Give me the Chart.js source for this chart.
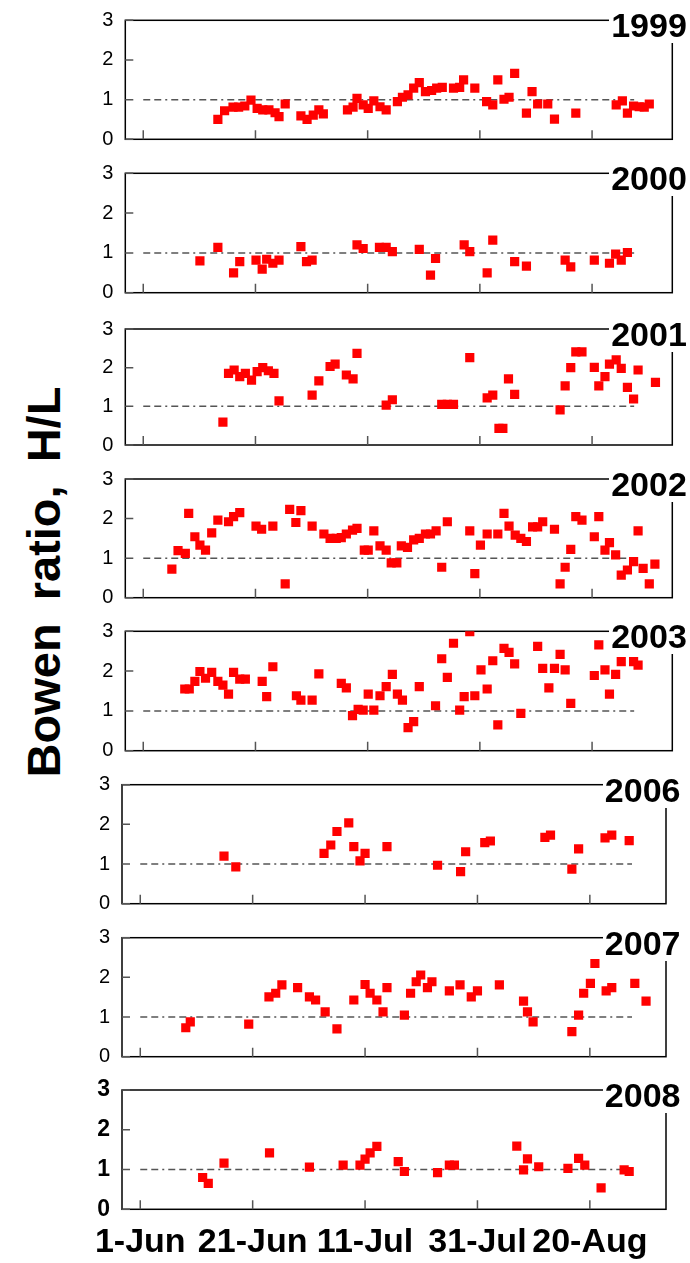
<!DOCTYPE html>
<html>
<head>
<meta charset="utf-8">
<script src="https://cdn.jsdelivr.net/npm/chart.js@4.4.1/dist/chart.umd.min.js"></script>
<style>
  html, body { margin: 0; padding: 0; background: #fff; }
  #wrap { position: relative; width: 690px; height: 1263px; overflow: hidden;
          font-family: "Liberation Sans", Arial, sans-serif; }
  #wrap canvas { position: absolute; left: 0; }
  .year { position: absolute; background: #fff; font-weight: bold; font-size: 34px;
          line-height: 36px; height: 36px; text-align: right; color: #000; }
  #ytitle { position: absolute; left: 43px; top: 582px; white-space: nowrap;
            transform: translate(-50%, -50%) rotate(-90deg);
            font-weight: bold; font-size: 47px; word-spacing: 10px; color: #000; }
</style>
</head>
<body>
<div id="wrap"><div id="ytitle">Bowen ratio, H/L</div></div>
<script>
// --- data: x = days since 1 June, y = Bowen ratio H/L ---
const years = ['1999', '2000', '2001', '2002', '2003', '2006', '2007', '2008'];
const tickDays = [0, 20, 40, 60, 80];
const tickLabels = ['1-Jun', '21-Jun', '11-Jul', '31-Jul', '20-Aug'];
const yTicks = [0, 1, 2, 3];
const refLine = [0, 87.5];   // H/L = 1 reference, from day .. to day

const days1999 = [13.3, 14.5, 16.0, 17.0, 18.1, 19.2, 20.3, 21.3, 22.4, 23.5, 24.2, 25.3, 28.1, 29.2, 30.3,
  31.3, 32.1, 36.4, 37.4, 38.1, 39.2, 40.1, 41.1, 42.2, 43.3, 45.3, 46.2, 47.2, 48.2, 49.2, 50.3, 51.4,
  52.3, 53.3, 55.3, 56.4, 57.1, 59.1, 61.2, 62.3, 63.2, 64.3, 65.2, 66.2, 68.3, 69.3, 70.3, 72.1, 73.3,
  77.1, 84.3, 85.4, 86.3, 87.4, 88.4, 89.3, 90.2];
const ratio1999 = [0.50, 0.72, 0.81, 0.81, 0.84, 0.99, 0.78, 0.74, 0.74, 0.67, 0.57, 0.89, 0.59, 0.50, 0.61,
  0.74, 0.64, 0.74, 0.81, 1.03, 0.87, 0.78, 0.97, 0.82, 0.74, 0.95, 1.06, 1.12, 1.29, 1.43, 1.20, 1.23,
  1.29, 1.31, 1.29, 1.31, 1.50, 1.29, 0.95, 0.87, 1.50, 1.01, 1.06, 1.66, 0.66, 1.20, 0.89, 0.89, 0.51,
  0.66, 0.87, 0.97, 0.66, 0.84, 0.82, 0.81, 0.89];

const days2000 = [10.1, 13.3, 16.1, 17.2, 20.1, 21.2, 22.0, 23.1, 24.2, 28.1, 29.1, 30.1, 38.1, 39.2, 42.1,
  43.3, 44.4, 49.2, 51.2, 52.1, 57.2, 58.2, 61.3, 62.3, 66.2, 68.3, 75.2, 76.2, 80.4, 83.1, 84.2, 85.2, 86.3];
const ratio2000 = [0.80, 1.14, 0.50, 0.78, 0.82, 0.59, 0.84, 0.74, 0.82, 1.16, 0.78, 0.82, 1.20, 1.11, 1.14,
  1.14, 1.03, 1.09, 0.44, 0.86, 1.20, 1.03, 0.50, 1.32, 0.78, 0.67, 0.82, 0.65, 0.82, 0.74, 0.97, 0.82, 1.01];

const days2001 = [14.2, 15.2, 16.2, 17.2, 18.2, 19.3, 20.3, 21.3, 22.3, 23.3, 24.2, 30.1, 31.3, 33.3, 34.2,
  36.2, 37.4, 38.1, 43.3, 44.4, 53.2, 54.2, 55.3, 58.2, 61.3, 62.3, 63.4, 64.1, 65.1, 66.2, 74.3, 75.2,
  76.2, 77.1, 78.2, 80.4, 81.2, 82.3, 83.1, 84.3, 85.2, 86.3, 87.4, 88.2, 91.3];
const ratio2001 = [0.59, 1.85, 1.94, 1.77, 1.85, 1.68, 1.90, 2.00, 1.92, 1.85, 1.14, 1.29, 1.66, 2.03, 2.09,
  1.81, 1.71, 2.37, 1.03, 1.17, 1.05, 1.05, 1.05, 2.26, 1.22, 1.29, 0.43, 0.43, 1.71, 1.31, 0.91, 1.53,
  2.00, 2.41, 2.41, 2.01, 1.53, 1.77, 2.09, 2.20, 1.98, 1.49, 1.19, 1.94, 1.62];

const days2002 = [5.1, 6.2, 7.5, 8.1, 9.2, 10.1, 11.1, 12.2, 13.3, 15.2, 16.1, 17.2, 20.1, 21.1, 23.1,
  25.3, 26.1, 27.2, 28.1, 30.1, 32.2, 33.3, 34.4, 35.3, 36.2, 37.3, 38.1, 39.4, 40.1, 41.1, 42.2, 43.3,
  44.2, 45.2, 46.0, 47.1, 48.2, 49.2, 50.3, 51.2, 52.2, 53.2, 54.2, 58.2, 59.1, 60.1, 61.3, 63.2, 64.3,
  65.2, 66.3, 67.3, 68.3, 69.4, 70.3, 71.2, 73.3, 74.3, 75.2, 76.2, 77.1, 78.2, 80.4, 81.2, 82.3, 83.1,
  84.2, 85.2, 86.3, 87.4, 88.2, 89.1, 90.2, 91.2];
const ratio2002 = [0.72, 1.19, 1.12, 2.13, 1.54, 1.33, 1.20, 1.64, 1.96, 1.92, 2.05, 2.15, 1.81, 1.73, 1.81,
  0.35, 2.23, 1.90, 2.20, 1.81, 1.61, 1.50, 1.50, 1.52, 1.61, 1.71, 1.75, 1.20, 1.20, 1.69, 1.31, 1.20,
  0.88, 0.88, 1.31, 1.27, 1.46, 1.50, 1.61, 1.61, 1.69, 0.77, 1.92, 1.69, 0.61, 1.33, 1.61, 1.61, 2.13,
  1.81, 1.58, 1.50, 1.42, 1.79, 1.79, 1.92, 1.73, 0.35, 0.77, 1.22, 2.05, 1.96, 1.54, 2.05, 1.20, 1.39,
  1.08, 0.57, 0.70, 0.91, 1.69, 0.74, 0.35, 0.85];

const days2003 = [7.4, 8.2, 9.2, 10.1, 11.1, 12.2, 13.3, 14.2, 15.2, 16.1, 17.2, 18.2, 21.2, 22.0, 23.1,
  27.3, 28.1, 30.1, 31.3, 35.3, 36.2, 37.3, 38.3, 39.2, 40.1, 41.1, 42.2, 43.3, 44.4, 45.3, 46.2, 47.2,
  48.2, 49.2, 52.1, 53.2, 54.2, 55.3, 56.4, 57.2, 58.2, 59.1, 60.2, 61.3, 62.3, 63.2, 64.3, 65.2, 66.2,
  67.3, 70.3, 71.2, 72.3, 73.3, 74.3, 75.2, 76.2, 80.4, 81.2, 82.3, 83.1, 84.2, 85.2, 87.4, 88.2];
const ratio2003 = [1.55, 1.55, 1.74, 1.99, 1.82, 1.97, 1.74, 1.65, 1.42, 1.97, 1.80, 1.80, 1.74, 1.36, 2.11,
  1.38, 1.27, 1.27, 1.93, 1.69, 1.58, 0.88, 1.04, 1.02, 1.42, 1.02, 1.38, 1.61, 1.92, 1.42, 1.27, 0.58,
  0.73, 1.61, 1.13, 2.31, 1.84, 2.70, 1.02, 1.36, 2.99, 1.38, 2.03, 1.55, 2.26, 0.65, 2.57, 2.47, 2.18,
  0.94, 2.62, 2.07, 1.58, 2.07, 2.42, 2.03, 1.19, 1.89, 2.66, 2.03, 1.42, 1.92, 2.24, 2.24, 2.15];

const days2006 = [14.9, 17.0, 32.7, 33.9, 35.0, 37.1, 38.0, 39.1, 40.0, 43.9, 52.9, 57.0, 57.9, 61.3, 62.3,
  72.0, 73.0, 76.8, 78.0, 82.7, 83.9, 87.0];
const ratio2006 = [1.20, 0.93, 1.27, 1.48, 1.82, 2.04, 1.44, 1.08, 1.27, 1.44, 0.97, 0.81, 1.31, 1.54, 1.58,
  1.67, 1.73, 0.87, 1.38, 1.66, 1.73, 1.59];

const days2007 = [8.1, 8.9, 19.3, 22.9, 24.1, 25.2, 28.0, 30.1, 31.2, 32.9, 35.0, 38.0, 40.0, 40.9, 42.1,
  43.2, 43.9, 47.0, 48.1, 49.1, 49.9, 51.1, 51.9, 55.0, 56.9, 58.9, 60.0, 63.9, 68.2, 68.9, 69.9, 76.8,
  78.0, 78.9, 80.1, 80.9, 82.9, 83.9, 88.0, 90.0];
const ratio2007 = [0.73, 0.88, 0.82, 1.51, 1.60, 1.81, 1.74, 1.51, 1.43, 1.13, 0.70, 1.43, 1.82, 1.60, 1.43,
  1.13, 1.74, 1.05, 1.60, 1.89, 2.06, 1.74, 1.89, 1.66, 1.81, 1.51, 1.66, 1.81, 1.40, 1.13, 0.88, 0.63,
  1.05, 1.60, 1.85, 2.35, 1.66, 1.74, 1.85, 1.40];

const days2008 = [11.1, 12.1, 14.9, 23.0, 30.1, 36.1, 39.1, 40.0, 40.9, 42.1, 45.9, 47.0, 52.9, 55.0, 55.9,
  67.0, 68.2, 68.9, 70.9, 76.1, 78.0, 79.1, 82.0, 86.1, 87.0];
const ratio2008 = [0.80, 0.65, 1.16, 1.42, 1.06, 1.11, 1.11, 1.26, 1.42, 1.58, 1.20, 0.95, 0.92, 1.11, 1.11,
  1.59, 0.99, 1.27, 1.07, 1.03, 1.28, 1.11, 0.54, 0.99, 0.95];

const allDays = [days1999, days2000, days2001, days2002, days2003, days2006, days2007, days2008];
const allRatios = [ratio1999, ratio2000, ratio2001, ratio2002, ratio2003, ratio2006, ratio2007, ratio2008];

// --- layout: plot area of every panel, in page pixels ---
const panels = [
  { top: 20.3,   bottom: 139.3,  left: 125.3, right: 672.3, xMin: -3.2, xMax: 94.3 },
  { top: 173.3,  bottom: 292.7,  left: 125.3, right: 672.3, xMin: -3.2, xMax: 94.3 },
  { top: 329,    bottom: 445,    left: 125.3, right: 672.3, xMin: -3.2, xMax: 94.3 },
  { top: 479,    bottom: 597.7,  left: 125.3, right: 672.3, xMin: -3.2, xMax: 94.3 },
  { top: 631.3,  bottom: 750.7,  left: 125.3, right: 672.3, xMin: -3.2, xMax: 94.3 },
  { top: 784.7,  bottom: 903.7,  left: 122,   right: 666,   xMin: -3.25, xMax: 93.55 },
  { top: 937.7,  bottom: 1056.7, left: 122,   right: 666,   xMin: -3.25, xMax: 93.55 },
  { top: 1090,   bottom: 1209.3, left: 122,   right: 666,   xMin: -3.25, xMax: 93.55 }
];
const PAGE_W = 690, PAGE_H = 1263;
const Y_AXIS_W = 60, X_AXIS_H = 50;

// box + inside tick marks, drawn under the markers
const framePlugin = {
  id: 'frame',
  beforeDatasetsDraw(chart) {
    const { ctx, chartArea: a, scales: { x, y } } = chart;
    ctx.save();
    ctx.strokeStyle = '#000';
    ctx.lineWidth = 1.5;
    ctx.strokeRect(a.left, a.top, a.right - a.left, a.bottom - a.top);
    ctx.strokeStyle = '#555';
    ctx.beginPath();
    yTicks.forEach(v => {
      const py = y.getPixelForValue(v);
      ctx.moveTo(a.left, py);
      ctx.lineTo(a.left + 8, py);
    });
    tickDays.forEach(d => {
      const px = x.getPixelForValue(d);
      ctx.moveTo(px, a.bottom);
      ctx.lineTo(px, a.bottom - 9);
    });
    ctx.stroke();
    ctx.restore();
  }
};

const wrap = document.getElementById('wrap');

panels.forEach((b, i) => {
  const isLast = i === panels.length - 1;
  const canvasTop = Math.floor(b.top) - 15;
  const canvasH = isLast ? PAGE_H - canvasTop : Math.ceil(b.bottom) + 12 - canvasTop;
  const xH = isLast ? X_AXIS_H : 0;

  const canvas = document.createElement('canvas');
  canvas.width = PAGE_W;
  canvas.height = canvasH;
  canvas.style.top = canvasTop + 'px';
  wrap.appendChild(canvas);

  const points = allDays[i].map((d, k) => ({ x: d, y: allRatios[i][k] }));

  new Chart(canvas.getContext('2d'), {
    type: 'scatter',
    data: {
      datasets: [
        {
          data: points,
          pointStyle: 'rect',
          pointRadius: 6.5,
          pointBackgroundColor: '#ff0000',
          pointBorderWidth: 0,
          order: 0
        },
        {
          data: refLine.map(d => ({ x: d, y: 1 })),
          showLine: true,
          borderColor: '#555',
          borderWidth: 1.5,
          borderDash: [7, 4, 7, 4, 2, 4],
          pointRadius: 0,
          order: 1
        }
      ]
    },
    options: {
      responsive: false,
      animation: false,
      devicePixelRatio: 1,
      layout: {
        padding: {
          left: b.left - Y_AXIS_W,
          right: PAGE_W - b.right,
          top: b.top - canvasTop,
          bottom: canvasH - (b.bottom - canvasTop) - xH
        }
      },
      plugins: { legend: { display: false }, tooltip: { enabled: false } },
      scales: {
        x: {
          type: 'linear',
          min: b.xMin,
          max: b.xMax,
          grid: { display: false, drawTicks: false },
          border: { display: false },
          afterBuildTicks: s => { s.ticks = tickDays.map(v => ({ value: v })); },
          afterFit: s => { s.height = xH; s.paddingLeft = 0; s.paddingRight = 0; },
          ticks: {
            display: isLast,
            autoSkip: false,
            maxRotation: 0,
            padding: 13,
            color: '#000',
            font: { family: '"Liberation Sans", Arial, sans-serif', size: 34, weight: 'bold' },
            callback: (v, idx) => tickLabels[idx]
          }
        },
        y: {
          min: 0,
          max: 3,
          grid: { display: false, drawTicks: false },
          border: { display: false },
          afterBuildTicks: s => { s.ticks = yTicks.map(v => ({ value: v })); },
          afterFit: s => { s.width = Y_AXIS_W; s.paddingTop = 0; s.paddingBottom = 0; },
          ticks: {
            padding: 12,
            color: '#000',
            font: isLast
              ? { family: '"Liberation Sans", Arial, sans-serif', size: 23, weight: 'bold' }
              : { family: '"Liberation Sans", Arial, sans-serif', size: 20 }
          }
        }
      }
    },
    plugins: [framePlugin]
  });

  // year label sits on top of the frame corner
  const lab = document.createElement('div');
  lab.className = 'year';
  lab.textContent = years[i];
  lab.style.left = (b.right - 63) + 'px';
  lab.style.width = (PAGE_W - (b.right - 63) - (PAGE_W - b.right - 14.5)) + 'px';
  lab.style.paddingRight = (PAGE_W - b.right - 14.5) + 'px';
  lab.style.top = (b.top - 13) + 'px';
  wrap.appendChild(lab);
});
</script>
</body>
</html>
